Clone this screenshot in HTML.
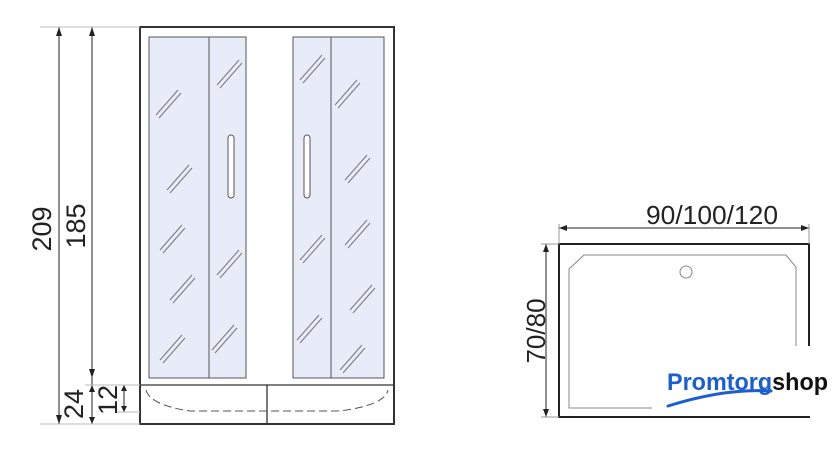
<!DOCTYPE html><html><head><style>body{margin:0;background:#fff}svg{display:block}</style></head><body>
<svg width="840" height="453" viewBox="0 0 840 453" xmlns="http://www.w3.org/2000/svg" font-family="Liberation Sans, sans-serif">
<g stroke="#333" fill="none">
<rect x="140" y="27" width="254" height="397" stroke-width="2"/>
<line x1="140" y1="385" x2="394" y2="385" stroke-width="1.3"/>
<line x1="267" y1="385" x2="267" y2="424" stroke-width="1.3"/>
<rect x="149" y="37" width="97" height="341" fill="#e8ecf8" stroke="#555"/>
<line x1="209" y1="37" x2="209" y2="378" stroke="#555"/>
<rect x="293" y="37" width="91" height="341" fill="#e8ecf8" stroke="#555"/>
<line x1="331" y1="37" x2="331" y2="378" stroke="#555"/>
<rect x="228" y="135" width="6" height="63" rx="3" fill="#fff" stroke="#555"/>
<rect x="304" y="135" width="6" height="63" rx="3" fill="#fff" stroke="#555"/>
<path d="M146 390 Q150 405 190 411 L340 411 Q385 405 388 390" stroke="#555" stroke-dasharray="8 4"/>
</g>
<g stroke="#777" stroke-width="1">
<path d="M156 115l22-25M159 118l22-25M167 190l22-25M170 193l22-25M160 250l22-25M163 253l22-25M170 300l22-25M173 303l22-25M160 360l22-25M163 363l22-25M217 85l22-25M220 88l22-25M217 275l22-25M220 278l22-25M212 350l22-25M215 353l22-25M300 80l22-25M303 83l22-25M335 105l22-25M338 108l22-25M345 180l22-25M348 183l22-25M300 260l22-25M303 263l22-25M345 245l22-25M348 248l22-25M350 310l22-25M353 313l22-25M297 340l22-25M300 343l22-25M340 370l22-25M343 373l22-25"/>
</g>
<g stroke="#222" stroke-width="1">
<line x1="59" y1="27" x2="59" y2="424"/><line x1="92" y1="27" x2="92" y2="424"/>
<line x1="124" y1="385" x2="124" y2="412"/>
<line x1="40" y1="27" x2="140" y2="27" stroke="#bbb"/><line x1="40" y1="424" x2="140" y2="424" stroke="#bbb"/>
<line x1="85" y1="385" x2="140" y2="385" stroke="#bbb"/><line x1="115" y1="412" x2="140" y2="412" stroke="#bbb"/>
</g>
<g fill="#222">
<path d="M59 27l-3 9h6zM59 424l-3-9h6zM92 27l-3 9h6zM92 378l-3-9h6zM92 385l-3 7h6zM92 424l-3-7h6zM124 385l-3 6h6zM124 412l-3-6h6z"/>
</g>
<g font-size="27" fill="#222">
<text transform="translate(51,229) rotate(-90)" text-anchor="middle">209</text>
<text transform="translate(85,226) rotate(-90)" text-anchor="middle">185</text>
<text transform="translate(83,404) rotate(-90)" text-anchor="middle">24</text>
<text transform="translate(117,400) rotate(-90)" text-anchor="middle">12</text>
</g>
<g stroke="#222" fill="none">
<rect x="559" y="244" width="250" height="173" stroke-width="2"/>
<path d="M584 255H786L796 267V408H569V269Z" stroke="#888"/>
<circle cx="686" cy="272" r="6" stroke="#888"/>
<line x1="559" y1="228" x2="809" y2="228"/><line x1="559" y1="224" x2="559" y2="244" stroke="#999"/><line x1="809" y1="224" x2="809" y2="244" stroke="#999"/>
<line x1="546" y1="244" x2="546" y2="417"/><line x1="541" y1="244" x2="559" y2="244" stroke="#999"/><line x1="541" y1="417" x2="559" y2="417" stroke="#999"/>
</g>
<g fill="#222"><path d="M559 228l8-3v6zM809 228l-8-3v6zM546 244l-3 8h6zM546 417l-3-8h6z"/></g>
<text x="712" y="224" font-size="26" text-anchor="middle" fill="#222" textLength="132" lengthAdjust="spacingAndGlyphs">90/100/120</text>
<text transform="translate(545,331) rotate(-90)" text-anchor="middle" font-size="26" fill="#222">70/80</text>
<rect x="652" y="346" width="188" height="70" fill="#fff"/>
<text x="667" y="390" font-size="24" font-weight="bold" fill="#1a5fd0" textLength="161" lengthAdjust="spacingAndGlyphs">Promtorg<tspan fill="#111">shop</tspan></text>
<path d="M668 406 Q725 388 771 391" stroke="#1a5fd0" stroke-width="3" fill="none" stroke-linecap="round"/>
</svg></body></html>
